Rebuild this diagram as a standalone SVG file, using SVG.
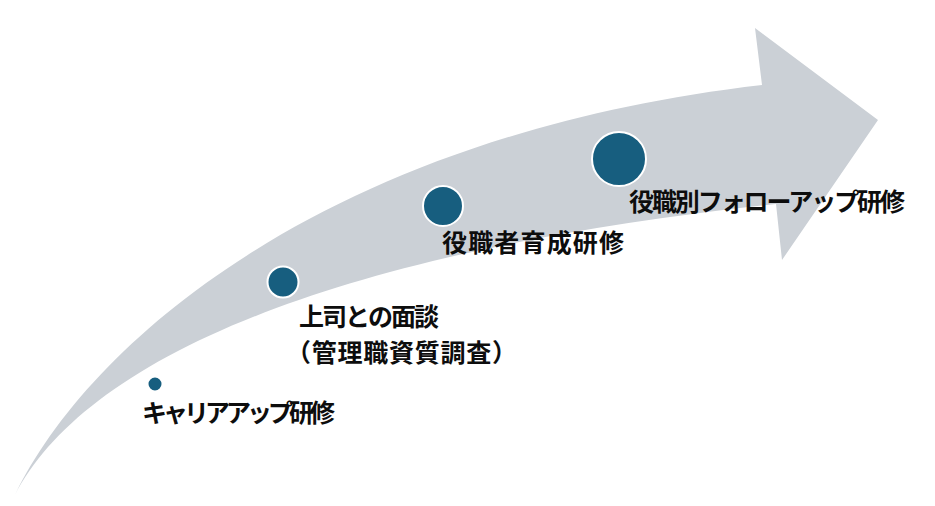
<svg xmlns="http://www.w3.org/2000/svg" width="935" height="506" viewBox="0 0 935 506">
  <style>
    .dot { fill: #175e7f; stroke: #ffffff; stroke-width: 2; }
    .lbl { font-family: "Noto Sans CJK JP", "Noto Sans", sans-serif; font-weight: 700; font-size: 25px; fill: #0d0d0d; }
  </style>
  <rect width="935" height="506" fill="#ffffff"/>
  <g id="connectors">
    <path id="arrow" d="M15,495 C90,340 330,135 762,85 L755,28 L878,120 L782,260 L776,204 C300,255 80,370 15,495 Z" fill="#cbd0d6"/>
  </g>
  <g id="node-career">
    <circle class="dot" cx="155" cy="384" r="7.5"/>
    <text class="lbl" x="142" y="422" textLength="193" lengthAdjust="spacing">キャリアアップ研修</text>
  </g>
  <g id="node-interview">
    <circle class="dot" cx="283" cy="282" r="15.5"/>
    <text class="lbl" x="299" y="326" textLength="140" lengthAdjust="spacing">上司との面談</text>
    <text class="lbl" x="286" y="362" textLength="231" lengthAdjust="spacing">（管理職資質調査）</text>
  </g>
  <g id="node-manager">
    <circle class="dot" cx="443" cy="206" r="20"/>
    <text class="lbl" x="442" y="252" textLength="182" lengthAdjust="spacing">役職者育成研修</text>
  </g>
  <g id="node-followup">
    <circle class="dot" cx="619" cy="159" r="27"/>
    <text class="lbl" x="629" y="211" textLength="276" lengthAdjust="spacing">役職別フォローアップ研修</text>
  </g>
</svg>
